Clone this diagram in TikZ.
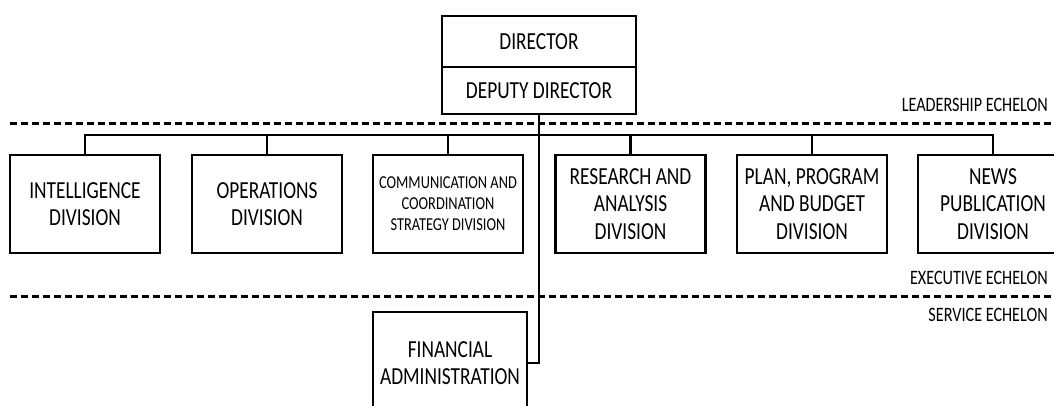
\documentclass[tikz,border=0pt]{standalone}
\usepackage{fontspec}
\setmainfont{Carlito}[FakeStretch=0.79]
\begin{document}
\begin{tikzpicture}[x=1pt,y=-1pt,
  box/.style={draw=black, line width=2.7pt, fill=white, inner sep=0pt, align=center},
  bigtxt/.style={font=\fontsize{24.5}{27.5}\selectfont},
  smalltxt/.style={font=\fontsize{18.2}{21}\selectfont},
  divbox/.style={box, minimum width=150pt, minimum height=98pt},
  conn/.style={draw=black, line width=2.7pt},
  sep/.style={draw=black, line width=3pt, dash pattern=on 7pt off 4pt},
  echelon/.style={anchor=east, inner sep=0pt, font=\fontsize{20.5}{23}\selectfont}]
\useasboundingbox (0,0) rectangle (1054,406);
\clip (0,0) rectangle (1054,406);

% separators
\coordinate (s1a) at (10,124);
\coordinate (s1b) at (1060,124);
\coordinate (s2a) at (10,296);
\coordinate (s2b) at (1060,296);
\draw[sep] (s1a) -- (s1b);
\draw[sep] (s2a) -- (s2b);

% leadership
\node[box, bigtxt, minimum width=194pt, minimum height=51pt] (dir) at (539,41.5) {DIRECTOR};
\node[box, bigtxt, minimum width=194pt, minimum height=47pt] (dep) at (539,90.5) {DEPUTY DIRECTOR};

% divisions
\node[divbox, bigtxt] (d1) at (85,204) {INTELLIGENCE\\DIVISION};
\node[divbox, bigtxt] (d2) at (267,204) {OPERATIONS\\DIVISION};
\node[divbox, smalltxt] (d3) at (448,204) {COMMUNICATION AND\\COORDINATION\\STRATEGY DIVISION};
\node[divbox, bigtxt] (d4) at (630.5,204) {RESEARCH AND\\ANALYSIS\\DIVISION};
\node[divbox, bigtxt] (d5) at (812,204) {PLAN, PROGRAM\\AND BUDGET\\DIVISION};
\node[divbox, bigtxt] (d6) at (993,204) {NEWS\\PUBLICATION\\DIVISION};

% service
\node[box, bigtxt, minimum width=154pt, minimum height=102pt] (fin) at (450,363) {FINANCIAL\\ADMINISTRATION};

% bus
\coordinate (bus) at (0,135);
\draw[conn] (d1.north) -- (d1.north |- bus) -- (d6.north |- bus) -- (d6.north);
\foreach \n in {d2,d3,d4,d5} \draw[conn] (\n.north) -- (\n.north |- bus);
\draw[conn] (dep.south) |- (fin.east);

% echelon labels
\node[echelon] (le) at (1048,105) {LEADERSHIP ECHELON};
\node[echelon] (ee) at (1048,278) {EXECUTIVE ECHELON};
\node[echelon] (se) at (1048,315) {SERVICE ECHELON};
\end{tikzpicture}
\end{document}
